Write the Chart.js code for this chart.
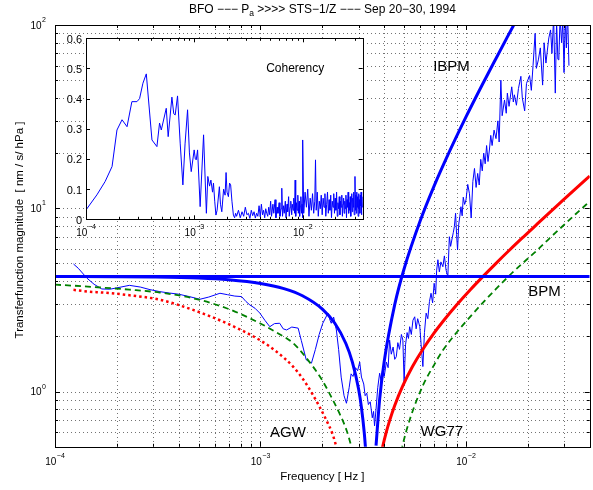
<!DOCTYPE html>
<html><head><meta charset="utf-8">
<script src="https://cdn.jsdelivr.net/npm/chart.js@4.4.0/dist/chart.umd.min.js"></script>
<style>
body{margin:0;background:#fff;}
#wrap{position:relative;width:593px;height:490px;background:#fff;}
canvas{position:absolute;left:0;top:0;}
</style></head><body>
<div id="wrap"><canvas id="main" width="593" height="490"></canvas><canvas id="inset" width="593" height="490"></canvas></div>
<script>
// ---------------- data ----------------
const titleText = ['BFO \u2212\u2212\u2212 P', 'a', ' >>>> STS\u22121/Z \u2212\u2212\u2212 Sep 20\u221230, 1994'];
const xAxisTitle = 'Frequency [ Hz ]';
const yAxisTitle = 'Transferfunction magnitude  [ nm / s/ hPa ]';

const xTicks = [1e-4,2e-4,3e-4,4e-4,5e-4,6e-4,7e-4,8e-4,9e-4,1e-3,2e-3,3e-3,4e-3,5e-3,6e-3,7e-3,8e-3,9e-3,1e-2,2e-2,3e-2,4e-2];
const xMajor = [1e-4,1e-3,1e-2];
const xMajorExp = ['\u22124','\u22123','\u22122'];
const yTicks = [0.5,0.6,0.7,0.8,0.9,1,2,3,4,5,6,7,8,9,10,20,30,40,50,60,70,80,90,100];
const yMajor = [1,10,100];
const yMajorExp = ['0','1','2'];

const insetXTicks = [1e-4,2e-4,3e-4,4e-4,5e-4,6e-4,7e-4,8e-4,9e-4,1e-3,2e-3,3e-3,4e-3,5e-3,6e-3,7e-3,8e-3,9e-3,1e-2,2e-2,3e-2];
const insetXMajor = [1e-4,1e-3,1e-2];
const insetXMajorExp = ['\u22124','\u22123','\u22122'];
const insetYTicks = [0,0.1,0.2,0.3,0.4,0.5,0.6];
const insetYLabels = ['0','0.1','0.2','0.3','0.4','0.5','0.6'];

// BPM (flat)
const bpm = [[1e-4,4.25],[4e-2,4.25]];
// IBPM thick blue
const ibpmLeft = [[1e-4,4.246],[2e-4,4.236],[3e-4,4.218],[5e-4,4.161],[7e-4,4.075],[1e-3,3.893],[1.3e-3,3.647],[1.6e-3,3.336],[2e-3,2.822],[2.3e-3,2.361],[2.6e-3,1.836],[2.8e-3,1.45],[3.0e-3,1.036],[3.1e-3,0.818],[3.2e-3,0.594],[3.25e-3,0.479]];
const ibpmRight = [[3.65e-3,0.507],[3.8e-3,0.906],[4.0e-3,1.46],[4.5e-3,2.98],[5e-3,4.68],[6e-3,8.6],[7e-3,13.25],[8e-3,18.6],[1e-2,31.5],[1.2e-2,47.2],[1.4e-2,65.7],[1.6e-2,87.2],[1.8e-2,111.4]];
// AGW red
const agwLeft = [[1.23e-4,3.59],[1.47e-4,3.51],[1.72e-4,3.47],[2.23e-4,3.37],[3.24e-4,3.17],[4.7e-4,2.79],[6.84e-4,2.36],[9.93e-4,1.91],[1.19e-3,1.66],[1.44e-3,1.37],[1.61e-3,1.17],[1.8e-3,0.96],[2.09e-3,0.70],[2.25e-3,0.58],[2.34e-3,0.50],[2.42e-3,0.44]];
const agwRight = [[3.85e-3,0.449],[3.92e-3,0.494],[4.1e-3,0.605],[4.25e-3,0.695],[4.5e-3,0.84],[4.93e-3,1.077],[5.5e-3,1.374],[6.17e-3,1.703],[7e-3,2.091],[7.72e-3,2.414],[9e-3,2.969],[1.05e-2,3.597],[1.218e-2,4.28],[1.4e-2,5.01],[1.63e-2,5.92],[1.9e-2,6.97],[2.2e-2,8.13],[2.55e-2,9.48],[2.95e-2,11.0],[3.4e-2,12.72],[4e-2,15.0]];
// WG77 green dashed
const wgLeft = [[1e-4,3.83],[1.2e-4,3.79],[1.72e-4,3.69],[2.3e-4,3.60],[3.24e-4,3.47],[4.7e-4,3.23],[6.84e-4,2.85],[9.93e-4,2.36],[1.2e-3,2.10],[1.44e-3,1.84],[1.8e-3,1.37],[2.0e-3,1.15],[2.25e-3,0.90],[2.45e-3,0.74],[2.62e-3,0.618],[2.77e-3,0.50],[2.85e-3,0.44]];
const wgRight = [[4.85e-3,0.47],[4.9e-3,0.50],[5.32e-3,0.70],[6.17e-3,1.08],[7.0e-3,1.40],[7.72e-3,1.68],[9e-3,2.10],[1.003e-2,2.42],[1.2e-2,3.03],[1.4e-2,3.63],[1.63e-2,4.31],[1.9e-2,5.05],[2.2e-2,5.85],[2.55e-2,6.86],[2.95e-2,7.98],[3.4e-2,9.25],[4e-2,10.9]];
// measured transfer function (thin blue)
const measuredTF = [[1.23e-4,4.97],[1.30e-4,4.70],[1.43e-4,4.16],[1.55e-4,3.85],[1.69e-4,3.63],[1.85e-4,3.62],[2.0e-4,3.68],[2.3e-4,3.80],[2.6e-4,3.72],[2.9e-4,3.60],
[3.24e-4,3.51],[3.6e-4,3.45],[4.0e-4,3.40],[4.5e-4,3.30],[5.07e-4,3.19],[5.6e-4,3.28],[6.35e-4,3.44],[6.9e-4,3.38],[7.5e-4,3.32],[8.09e-4,3.30],
[8.5e-4,3.10],[8.88e-4,2.97],[9.4e-4,2.85],[9.93e-4,2.68],[1.05e-3,2.45],[1.11e-3,2.26],[1.17e-3,2.35],[1.24e-3,2.36],[1.29e-3,2.20],[1.34e-3,2.17],
[1.42e-3,2.25],[1.525e-3,2.22],[1.58e-3,1.90],[1.67e-3,1.49],[1.77e-3,1.43],[1.85e-3,1.70],[1.93e-3,2.05],[2.01e-3,2.36],[2.13e-3,2.68],[2.18e-3,2.45],
[2.21e-3,2.36],[2.27e-3,2.55],[2.34e-3,2.17],[2.40e-3,1.70],[2.47e-3,1.20],[2.55e-3,0.95],[2.62e-3,0.864],[2.70e-3,1.05],[2.76e-3,1.25],[2.82e-3,1.21],
[2.90e-3,1.35],[2.97e-3,1.30],[3.04e-3,1.45],[3.10e-3,1.20],[3.18e-3,1.10],[3.23e-3,0.95],[3.29e-3,0.98],[3.35e-3,0.85],[3.42e-3,0.88],[3.50e-3,0.72],
[3.55e-3,0.78],[3.59e-3,0.65],[3.65e-3,0.80],[3.72e-3,1.05],[3.80e-3,1.26],[3.86e-3,1.15],[3.93e-3,1.32],[4.0e-3,1.21],[4.1e-3,1.45],[4.18e-3,1.35],
[4.25e-3,1.91],[4.33e-3,1.60],[4.42e-3,1.75],[4.50e-3,1.50],[4.58e-3,1.55],[4.66e-3,1.85],[4.75e-3,1.70],[4.85e-3,2.05],[4.93e-3,1.91],[5.0e-3,1.13],
[5.08e-3,1.80],[5.17e-3,2.10],[5.25e-3,1.95],[5.32e-3,2.26],[5.42e-3,2.05],[5.52e-3,2.45],[5.63e-3,2.56],[5.72e-3,2.20],[5.82e-3,2.50],[5.96e-3,2.26],
[6.05e-3,1.80],[6.17e-3,1.37],[6.28e-3,2.10],[6.40e-3,2.68],[6.52e-3,2.50],[6.64e-3,3.10],[6.76e-3,3.44],[6.88e-3,3.05],[7.0e-3,3.90],[7.12e-3,3.40],
[7.20e-3,4.60],[7.30e-3,5.24],[7.42e-3,4.50],[7.55e-3,5.10],[7.72e-3,4.80],[7.85e-3,5.50],[8.0e-3,4.60],[8.16e-3,4.24],[8.30e-3,7.0],[8.42e-3,6.2],
[8.55e-3,6.8],[8.68e-3,7.4],[8.78e-3,7.95],[8.90e-3,9.4],[9.0e-3,7.2],[9.10e-3,5.93],[9.22e-3,8.2],[9.33e-3,9.0],[9.45e-3,10.2],[9.58e-3,9.1],
[9.70e-3,11.5],[9.85e-3,10.5],[1.0e-2,11.1],[1.02e-2,13.5],[1.04e-2,12.0],[1.06e-2,8.85],[1.08e-2,14.0],[1.10e-2,16.5],[1.12e-2,13.0],[1.14e-2,15.5],
[1.16e-2,13.4],[1.18e-2,18.5],[1.20e-2,16.0],[1.22e-2,20.0],[1.24e-2,17.5],[1.26e-2,22.0],[1.28e-2,18.0],[1.30e-2,20.8],[1.32e-2,25.0],[1.34e-2,22.0],
[1.37e-2,26.7],[1.40e-2,24.0],[1.43e-2,30.0],[1.45e-2,23.0],[1.478e-2,50.0],[1.50e-2,32.0],[1.54e-2,39.0],[1.57e-2,33.0],[1.59e-2,42.5],[1.62e-2,36.0],
[1.67e-2,46.0],[1.70e-2,38.0],[1.72e-2,41.6],[1.76e-2,36.5],[1.80e-2,45.0],[1.85e-2,52.5],[1.88e-2,40.0],[1.93e-2,34.0],[1.97e-2,48.0],[2.04e-2,53.0],
[2.08e-2,44.0],[2.12e-2,60.0],[2.17e-2,90.0],[2.20e-2,58.0],[2.25e-2,64.5],[2.30e-2,75.0],[2.36e-2,47.0],[2.40e-2,80.0],[2.45e-2,62.0],[2.49e-2,73.0],
[2.53e-2,85.0],[2.58e-2,94.0],[2.62e-2,70.0],[2.67e-2,110],[2.72e-2,42.5],[2.76e-2,105],[2.80e-2,65],[2.83e-2,64.5],[2.87e-2,110],[2.92e-2,80],
[2.96e-2,105],[3.0e-2,55],[3.04e-2,110],[3.08e-2,75],[3.12e-2,120],[3.17e-2,60]];
// coherency (inset)
const coherency = [[1.0e-4,0.031],[1.26e-4,0.081],[1.5e-4,0.125],[1.74e-4,0.175],[1.93e-4,0.296],[2.15e-4,0.330],[2.39e-4,0.307],[2.65e-4,0.390],[2.95e-4,0.390],[3.12e-4,0.400],
[3.35e-4,0.451],[3.60e-4,0.482],[4.06e-4,0.263],[4.51e-4,0.241],[4.77e-4,0.319],[4.95e-4,0.296],[5.50e-4,0.368],[5.73e-4,0.274],[6.20e-4,0.405],[6.45e-4,0.350],
[6.65e-4,0.346],[6.99e-4,0.409],[7.4e-4,0.250],[7.83e-4,0.114],[8.2e-4,0.25],[8.65e-4,0.363],[9.0e-4,0.22],[9.35e-4,0.158],[9.95e-4,0.230],[1.02e-3,0.20],
[1.04e-3,0.197],[1.07e-3,0.23],[1.13e-3,0.042],[1.215e-3,0.280],[1.29e-3,0.020],[1.33e-3,0.142],[1.38e-3,0.11],[1.42e-3,0.13],[1.47e-3,0.09],[1.50e-3,0.12],
[1.54e-3,0.06],[1.58e-3,0.014],[1.62e-3,0.03],[1.70e-3,0.108],[1.74e-3,0.05],[1.79e-3,0.025],[1.86e-3,0.10],[1.92e-3,0.08],[1.96e-3,0.155],[2.0e-3,0.09],
[2.06e-3,0.075],[2.11e-3,0.12],[2.16e-3,0.114],[2.22e-3,0.06],[2.29e-3,0.014],[2.35e-3,0.005],[2.4e-3,0.02],
[2.45e-3,0.01],[2.55e-3,0.03],[2.65e-3,0.005],[2.75e-3,0.025],[2.85e-3,0.01],[2.95e-3,0.04],[3.05e-3,0.015],[3.15e-3,0.02],[3.25e-3,0.003],[3.35e-3,0.03],
[3.45e-3,0.012],[3.55e-3,0.025],[3.65e-3,0.004],[3.75e-3,0.02],[3.85e-3,0.01],[3.95e-3,0.045],[4.05e-3,0.008],[4.15e-3,0.05],[4.25e-3,0.015],[4.35e-3,0.03],
[4.45e-3,0.005],[4.55e-3,0.035],[4.65e-3,0.02],[4.75e-3,0.01],[4.85e-3,0.04],[4.95e-3,0.015],
[5.05e-3,0.06],[5.15e-3,0.01],[5.3e-3,0.05],[5.4e-3,0.02],[5.55e-3,0.065],[5.65e-3,0.005],[5.8e-3,0.04],[5.9e-3,0.02],[6.05e-3,0.055],[6.15e-3,0.01],
[6.3e-3,0.035],[6.4e-3,0.103],[6.5e-3,0.01],[6.65e-3,0.045],[6.75e-3,0.02],[6.9e-3,0.06],[7.0e-3,0.005],[7.15e-3,0.05],[7.25e-3,0.025],[7.4e-3,0.075],
[7.5e-3,0.01],[7.65e-3,0.04],[7.75e-3,0.06],[7.9e-3,0.015],[8.0e-3,0.05],[8.15e-3,0.03],[8.25e-3,0.07],[8.4e-3,0.02],[8.5e-3,0.13],[8.6e-3,0.01],
[8.75e-3,0.055],[8.85e-3,0.03],[9.0e-3,0.08],[9.1e-3,0.02],[9.25e-3,0.06],[9.35e-3,0.01],[9.5e-3,0.045],[9.6e-3,0.075],[9.75e-3,0.02],[9.85e-3,0.05],[9.95e-3,0.005],
[1.0e-2,0.263],[1.02e-2,0.02],[1.05e-2,0.09],[1.08e-2,0.04],[1.11e-2,0.1],[1.14e-2,0.01],[1.17e-2,0.07],[1.20e-2,0.03],[1.23e-2,0.085],[1.26e-2,0.02],
[1.29e-2,0.06],[1.31e-2,0.197],[1.33e-2,0.03],[1.36e-2,0.09],[1.39e-2,0.01],[1.42e-2,0.06],[1.45e-2,0.035],[1.48e-2,0.08],[1.51e-2,0.015],[1.54e-2,0.07],
[1.57e-2,0.04],[1.60e-2,0.085],[1.63e-2,0.01],[1.66e-2,0.05],[1.69e-2,0.09],[1.72e-2,0.02],[1.75e-2,0.065],[1.78e-2,0.03],[1.81e-2,0.08],[1.84e-2,0.005],
[1.87e-2,0.06],[1.90e-2,0.04],[1.93e-2,0.085],[1.96e-2,0.02],[1.99e-2,0.07],[2.02e-2,0.03],[2.05e-2,0.09],[2.08e-2,0.01],[2.11e-2,0.055],[2.14e-2,0.035],
[2.17e-2,0.075],[2.20e-2,0.015],[2.23e-2,0.06],[2.26e-2,0.04],[2.29e-2,0.08],[2.32e-2,0.01],[2.35e-2,0.05],[2.38e-2,0.07],[2.41e-2,0.02],[2.44e-2,0.06],
[2.47e-2,0.035],[2.50e-2,0.08],[2.53e-2,0.005],[2.56e-2,0.065],[2.59e-2,0.04],[2.62e-2,0.09],[2.65e-2,0.02],[2.68e-2,0.055],[2.71e-2,0.03],[2.74e-2,0.075],
[2.77e-2,0.01],[2.80e-2,0.06],[2.83e-2,0.085],[2.86e-2,0.025],[2.89e-2,0.07],[2.92e-2,0.04],[2.95e-2,0.09],[2.98e-2,0.015],[3.03e-2,0.142],[3.06e-2,0.03],
[3.09e-2,0.08],[3.12e-2,0.02],[3.15e-2,0.09],[3.18e-2,0.04],[3.21e-2,0.075],[3.24e-2,0.01],[3.27e-2,0.085],[3.30e-2,0.035],[3.33e-2,0.065],[3.36e-2,0.02],
[3.39e-2,0.08],[3.42e-2,0.045],[3.45e-2,0.09],[3.48e-2,0.015],[3.51e-2,0.06],[3.54e-2,0.04],[3.57e-2,0.075]];

// curve labels in data coordinates
const curveLabels = [['IBPM',8.5e-3,59],['BPM',2.41e-2,3.51],['AGW',1.36e-3,0.593],['WG77',7.63e-3,0.605]];
const insetLabel = ['Coherency',8.5e-3,0.499];

// ---------------- drawing ----------------
const FONT = '"Liberation Sans", Arial, Helvetica, sans-serif';
const BLUE='#0000ff', RED='#ff0000', GREEN='#008000';
const toPts = arr => arr.map(p=>({x:p[0],y:p[1]}));

function drawPow(ctx, cx, cy, exp, align, size){
  ctx.font = size+'px '+FONT; const w1 = ctx.measureText('10').width;
  const es = Math.round(size*0.72);
  ctx.font = es+'px '+FONT; const w2 = ctx.measureText(exp).width;
  let start = align==='right' ? cx-(w1+w2+0.5) : cx-(w1+w2+0.5)/2;
  ctx.textAlign='left'; ctx.textBaseline='middle';
  ctx.font = size+'px '+FONT; ctx.fillText('10', start, cy);
  ctx.font = es+'px '+FONT; ctx.fillText(exp, start+w1+0.5, cy-6);
}

function drawBoxTicks(chart, xt, xm, yt, ym, maj, min){
  const {ctx, chartArea:a, scales:{x,y}} = chart;
  ctx.save(); ctx.strokeStyle='#000'; ctx.lineWidth=1; ctx.setLineDash([]);
  ctx.beginPath();
  xt.forEach(v=>{ const px=Math.round(x.getPixelForValue(v))+0.5; const L=xm.includes(v)?maj:min;
    ctx.moveTo(px,a.bottom); ctx.lineTo(px,a.bottom-L); ctx.moveTo(px,a.top); ctx.lineTo(px,a.top+L); });
  yt.forEach(v=>{ const py=Math.round(y.getPixelForValue(v))+0.5; const L=ym.includes(v)?maj:min;
    ctx.moveTo(a.left,py); ctx.lineTo(a.left+L,py); ctx.moveTo(a.right,py); ctx.lineTo(a.right-L,py); });
  ctx.stroke();
  ctx.strokeRect(Math.round(a.left)+0.5, Math.round(a.top)+0.5, Math.round(a.right)-Math.round(a.left), Math.round(a.bottom)-Math.round(a.top));
  ctx.restore();
}

const mainDeco = {
  id:'mainDeco',
  beforeDatasetsDraw(chart){
    const {ctx, chartArea:a, scales:{x,y}} = chart;
    ctx.save(); ctx.strokeStyle='rgba(0,0,0,0.55)'; ctx.lineWidth=1; ctx.setLineDash([1,3]);
    ctx.beginPath();
    xTicks.forEach(v=>{ if(v<=x.min||v>=x.max) return; const px=Math.round(x.getPixelForValue(v))+0.5; ctx.moveTo(px,a.top); ctx.lineTo(px,a.bottom); });
    yTicks.forEach(v=>{ if(v<=y.min||v>=y.max) return; const py=Math.round(y.getPixelForValue(v))+0.5; ctx.moveTo(a.left,py); ctx.lineTo(a.right,py); });
    ctx.stroke(); ctx.restore();
  },
  afterDraw(chart){
    const {ctx, chartArea:a, scales:{x,y}} = chart;
    drawBoxTicks(chart, xTicks, xMajor, yTicks, yMajor, 5, 3);
    ctx.save(); ctx.fillStyle='#000';
    xMajor.forEach((v,i)=> drawPow(ctx, x.getPixelForValue(v), a.bottom+15, xMajorExp[i], 'center', 10));
    yMajor.forEach((v,i)=> drawPow(ctx, 46, y.getPixelForValue(v)+1, yMajorExp[i], 'right', 10));
    // axis titles
    ctx.font='11.5px '+FONT; ctx.textAlign='center'; ctx.textBaseline='middle';
    ctx.fillText(xAxisTitle, (a.left+a.right)/2, 477);
    ctx.save(); ctx.translate(20, 230); ctx.rotate(-Math.PI/2); ctx.fillText(yAxisTitle,0,0); ctx.restore();
    // title with subscript
    ctx.font='12px '+FONT; const w0=ctx.measureText(titleText[0]).width, w2=ctx.measureText(titleText[2]).width;
    ctx.font='8.5px '+FONT; const w1=ctx.measureText(titleText[1]).width;
    let sx=(a.left+a.right)/2-(w0+w1+w2)/2; ctx.textAlign='left';
    ctx.font='12px '+FONT; ctx.fillText(titleText[0], sx, 10);
    ctx.font='8.5px '+FONT; ctx.fillText(titleText[1], sx+w0, 14);
    ctx.font='12px '+FONT; ctx.fillText(titleText[2], sx+w0+w1, 10);
    // curve labels
    ctx.font='15px '+FONT; ctx.textAlign='center';
    curveLabels.forEach(l=> ctx.fillText(l[0], x.getPixelForValue(l[1]), y.getPixelForValue(l[2])));
    ctx.restore();
  }
};

const insetDeco = {
  id:'insetDeco',
  beforeDraw(chart){ const {ctx, chartArea:a}=chart; ctx.save(); ctx.fillStyle='#fff'; ctx.fillRect(a.left,a.top,a.right-a.left,a.bottom-a.top); ctx.restore(); },
  afterDraw(chart){
    const {ctx, chartArea:a, scales:{x,y}} = chart;
    drawBoxTicks(chart, insetXTicks, insetXMajor, insetYTicks, insetYTicks, 4, 2.5);
    ctx.save(); ctx.fillStyle='#000';
    ctx.font='11px '+FONT; ctx.textAlign='right'; ctx.textBaseline='middle';
    insetYTicks.forEach((v,i)=> ctx.fillText(insetYLabels[i], a.left-4, y.getPixelForValue(v)+1.5));
    insetXMajor.forEach((v,i)=> drawPow(ctx, x.getPixelForValue(v), a.bottom+14, insetXMajorExp[i], 'center', 10));
    ctx.font='12px '+FONT; ctx.textAlign='center';
    ctx.fillText(insetLabel[0], x.getPixelForValue(insetLabel[1]), y.getPixelForValue(insetLabel[2]));
    ctx.restore();
  }
};

Chart.defaults.animation=false;
Chart.defaults.font.family=FONT;

new Chart(document.getElementById('main'), {
  type:'line',
  data:{datasets:[
    {data:toPts(bpm), borderColor:BLUE, borderWidth:3, pointRadius:0, clip:0},
    {data:toPts(ibpmLeft), borderColor:BLUE, borderWidth:3, pointRadius:0, cubicInterpolationMode:'monotone', clip:0},
    {data:toPts(ibpmRight), borderColor:BLUE, borderWidth:3, pointRadius:0, cubicInterpolationMode:'monotone', clip:0},
    {data:toPts(agwRight), borderColor:RED, borderWidth:3, pointRadius:0, cubicInterpolationMode:'monotone', clip:0},
    {data:toPts(agwLeft), borderColor:RED, borderWidth:2.5, borderDash:[2.5,3], pointRadius:0, cubicInterpolationMode:'monotone', clip:0},
    {data:toPts(wgLeft), borderColor:GREEN, borderWidth:1.8, borderDash:[6,4], pointRadius:0, cubicInterpolationMode:'monotone', clip:0},
    {data:toPts(wgRight), borderColor:GREEN, borderWidth:1.8, borderDash:[6,4], pointRadius:0, cubicInterpolationMode:'monotone', clip:0},
    {data:toPts(measuredTF), borderColor:BLUE, borderWidth:1, pointRadius:0, tension:0, clip:0}
  ]},
  options:{
    responsive:false, devicePixelRatio:1, animation:false,
    layout:{padding:{left:55, top:25, right:3.3, bottom:43.2}},
    plugins:{legend:{display:false}, tooltip:{enabled:false}},
    scales:{
      x:{type:'logarithmic', min:1e-4, max:4e-2, display:false},
      y:{type:'logarithmic', min:0.5, max:100, display:false}
    }
  },
  plugins:[mainDeco]
});

new Chart(document.getElementById('inset'), {
  type:'line',
  data:{datasets:[
    {data:toPts(coherency), borderColor:BLUE, borderWidth:1, pointRadius:0, tension:0, clip:0}
  ]},
  options:{
    responsive:false, devicePixelRatio:1, animation:false,
    layout:{padding:{left:86, top:38.3, right:230.3, bottom:270.7}},
    plugins:{legend:{display:false}, tooltip:{enabled:false}},
    scales:{
      x:{type:'logarithmic', min:1e-4, max:0.0357, display:false},
      y:{type:'linear', min:0, max:0.6, display:false}
    }
  },
  plugins:[insetDeco]
});
</script>
</body></html>
